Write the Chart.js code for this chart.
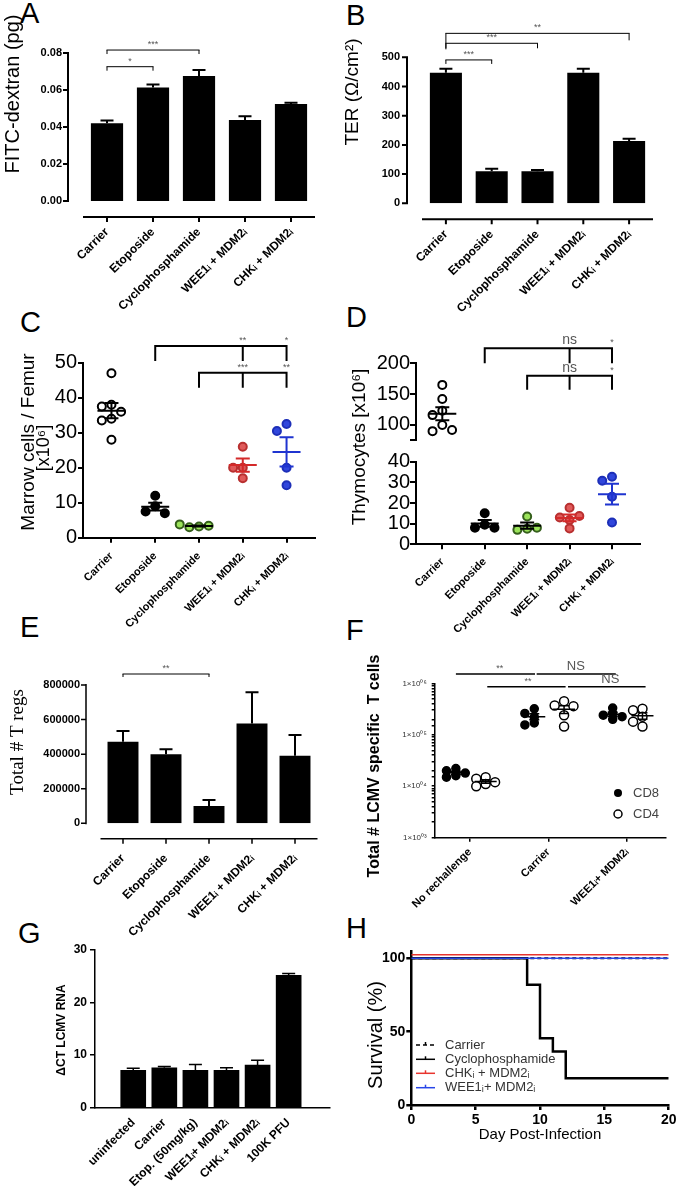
<!DOCTYPE html>
<html>
<head>
<meta charset="utf-8">
<title>Panels A-H</title>
<script src="https://cdn.jsdelivr.net/npm/chart.js@4.4.1/dist/chart.umd.min.js"></script>
<style>
  body { margin: 0; width: 677px; height: 1186px; position: relative; overflow: hidden; background: #fff; font-family: 'Liberation Sans', Arial, sans-serif; }
  canvas { position: absolute; left: 0; top: 0; }
  .tag { position: absolute; font-size: 29px; line-height: 1; color: #000; }
</style>
</head>
<body>
<div class="tag" style="left:20px;top:-1px">A</div>
<div class="tag" style="left:346px;top:1px">B</div>
<div class="tag" style="left:20px;top:308px">C</div>
<div class="tag" style="left:346px;top:303px">D</div>
<div class="tag" style="left:20px;top:613px">E</div>
<div class="tag" style="left:346px;top:616px">F</div>
<div class="tag" style="left:18px;top:919px">G</div>
<div class="tag" style="left:346px;top:914px">H</div>
<script>
const W = 677, H = 1186;
const SANS = "'Liberation Sans', Arial, sans-serif";
const SERIF = "'Liberation Serif', 'Times New Roman', serif";

// ---- data ----
const groupsAB = ['Carrier', 'Etoposide', 'Cyclophosphamide', 'WEE1ᵢ + MDM2ᵢ', 'CHKᵢ + MDM2ᵢ'];

// A: FITC-dextran (pg), mean + SEM
const aMean = [0.042, 0.0613, 0.0676, 0.0438, 0.0524];
const aSem = [0.0015, 0.0017, 0.0032, 0.0020, 0.0007];
const aTicks = [0, 0.02, 0.04, 0.06, 0.08];

// B: TER
const bMean = [447, 110, 110, 447, 213];
const bSem = [14, 8, 4, 14, 8];
const bTicks = [0, 100, 200, 300, 400, 500];

// C: marrow cells / femur (x10^6)
const cCarrier = [47, 38, 37.5, 36, 34, 33.5, 28];
const cEtoposide = [12, 9, 7.5, 7];
const cCyclo = [3.2, 3.0, 3.4, 3.8];
const cWee = [26, 20, 20, 17];
const cChk = [32.5, 30.5, 20, 15];
const cTicks = [0, 10, 20, 30, 40, 50];

// D: thymocytes (x10^6), split axis
const dCarrier = [165, 142, 123, 116, 100, 90, 92];
const dEtoposide = [15, 9.5, 8, 8];
const dCyclo = [13.5, 7.5, 7, 8];
const dWee = [17.7, 11.8, 13, 13.7, 7.7];
const dChk = [32.7, 30.8, 23, 10.6];
const dTopTicks = [75, 100, 150, 200];
const dLowTicks = [0, 10, 20, 30, 40];

// E: total # T regs
const eMean = [472000, 399000, 100000, 578000, 391000];
const eSem = [62000, 29000, 35000, 180000, 120000];
const eTicks = [0, 200000, 400000, 600000, 800000];

// F: LCMV specific T cells
const fGroups = ['No rechallenge', 'Carrier', 'WEE1ᵢ+ MDM2ᵢ'];
const fCD8 = [
  [22000, 20000, 18000, 16000, 15000],
  [320000, 260000, 220000, 170000, 155000],
  [330000, 260000, 240000, 225000, 200000]
];
const fCD4 = [
  [15000, 14000, 12000, 11000, 10000],
  [450000, 370000, 360000, 240000, 145000],
  [320000, 300000, 225000, 180000, 145000]
];

// G: dCT LCMV RNA
const gGroups = ['uninfected', 'Carrier', 'Etop. (50mg/kg)', 'WEE1ᵢ+ MDM2ᵢ', 'CHKᵢ + MDM2ᵢ', '100K PFU'];
const gMean = [7.1, 7.6, 7.1, 7.1, 8.1, 25.2];
const gSem = [0.4, 0.25, 1.1, 0.5, 0.95, 0.35];
const gTicks = [0, 10, 20, 30];

// H: survival
const hCarrierDays = [0, 20], hCarrier = [100, 100];
const hCycloDays = [0, 9, 10, 11, 12, 20], hCyclo = [100, 82, 45.5, 36.4, 18.2, 18.2];
const hChkDays = [0, 20], hChk = [102.5, 102.5];
const hWeeDays = [0, 20], hWee = [100, 100];
const hTicksX = [0, 5, 10, 15, 20];
const hTicksY = [0, 50, 100];

// ---- styles ----
const dotFill = ['#ffffff', '#000000', '#9be35a', '#e05a5a', '#3046dc'];
const dotEdge = ['#000000', '#000000', '#355f1c', '#b83030', '#1d2fb8'];
const statCol = ['#000000', '#000000', '#000000', '#d42a2a', '#1f34d0'];
const O8 = -0.18, O4 = 0.2; // CD8 / CD4 place inside a group

Chart.defaults.font.family = SANS;
Chart.defaults.color = '#000';
Chart.defaults.animation = false;
Chart.defaults.responsive = false;
Chart.defaults.plugins.legend.display = false;
Chart.defaults.plugins.tooltip.enabled = false;

// simple beeswarm so equal values don't sit on top of each other
function swarm(vals, center, step, tol, log) {
  const f = log ? Math.log10 : v => v;
  const used = [];
  return vals.map(v => {
    const slot = [0, -1, 1, -2, 2, -3, 3].find(c => !used.some(u => u.c === c && Math.abs(f(u.v) - f(v)) < tol));
    used.push({ v, c: slot });
    return { x: center + slot * step, y: v };
  });
}

const SUP = '⁰¹²³⁴⁵⁶⁷⁸⁹';
function sci(v) {
  const l = Math.log10(v), e = Math.round(l);
  if (Math.abs(l - e) > 1e-9) return '';
  return '1×10' + String(e).padStart(2, '0').split('').map(d => SUP[d]).join('');
}

// error bars, mean/SEM marks, offset axes, brackets, keys and titles
function deco(spec) {
  return {
    id: 'deco',
    afterDatasetsDraw(chart) {
      const { ctx, scales: { x, y } } = chart;
      ctx.save();
      if (spec.err) {
        const e = spec.err, meta = chart.getDatasetMeta(0);
        ctx.strokeStyle = '#000'; ctx.lineWidth = e.lw;
        ctx.beginPath();
        meta.data.forEach((bar, i) => {
          const top = y.getPixelForValue(e.mean[i] + e.sem[i]);
          ctx.moveTo(bar.x, bar.y); ctx.lineTo(bar.x, top);
          ctx.moveTo(bar.x - e.cap / 2, top); ctx.lineTo(bar.x + e.cap / 2, top);
        });
        ctx.stroke();
      }
      if (spec.stats) {
        const st = spec.stats;
        chart.data.datasets.forEach(ds => {
          const v = ds.data.map(p => p.y), n = v.length;
          const m = v.reduce((a, b) => a + b, 0) / n;
          const se = Math.sqrt(v.reduce((a, b) => a + (b - m) ** 2, 0) / (n - 1)) / Math.sqrt(n);
          const px = x.getPixelForValue(ds.center);
          const pm = y.getPixelForValue(m), p1 = y.getPixelForValue(m + se), p0 = y.getPixelForValue(m - se);
          ctx.strokeStyle = ds.statColor; ctx.lineWidth = st.lw;
          ctx.beginPath();
          ctx.moveTo(px - st.mw / 2, pm); ctx.lineTo(px + st.mw / 2, pm);
          ctx.moveTo(px, p0); ctx.lineTo(px, p1);
          ctx.moveTo(px - st.cw / 2, p0); ctx.lineTo(px + st.cw / 2, p0);
          ctx.moveTo(px - st.cw / 2, p1); ctx.lineTo(px + st.cw / 2, p1);
          ctx.stroke();
        });
      }
      ctx.restore();
    },
    afterDraw(chart) {
      const { ctx, chartArea: a, scales: { x, y } } = chart;
      ctx.save();
      if (spec.gap) {
        const ax = a.left - spec.gap, ay = a.bottom + spec.gap;
        ctx.strokeStyle = '#000'; ctx.lineWidth = spec.axisLw;
        ctx.beginPath();
        ctx.moveTo(ax, y.getPixelForValue(y.max) - 1); ctx.lineTo(ax, y.getPixelForValue(0) + 1);
        y.ticks.forEach(t => { const py = y.getPixelForValue(t.value); ctx.moveTo(ax - 5, py); ctx.lineTo(ax, py); });
        ctx.moveTo(a.left - 1, ay); ctx.lineTo(a.right + 1, ay);
        x.ticks.forEach((t, i) => { const px = x.getPixelForTick(i); ctx.moveTo(px, ay); ctx.lineTo(px, ay + 5); });
        ctx.stroke();
      }
      if (spec.brackets) {
        const bk = spec.brackets;
        bk.list.forEach(b => {
          const py = y.getPixelForValue(b.y);
          const xs = b.xs.map(v => x.getPixelForValue(v));
          ctx.strokeStyle = '#000'; ctx.lineWidth = bk.lw;
          ctx.beginPath();
          ctx.moveTo(xs[0] - bk.lw / 2, py); ctx.lineTo(xs[xs.length - 1] + bk.lw / 2, py);
          xs.forEach((px, j) => {
            const leg = Array.isArray(b.leg) ? b.leg[j] : b.leg;
            if (leg) { ctx.moveTo(px, py); ctx.lineTo(px, py + leg); }
          });
          ctx.stroke();
          ctx.fillStyle = bk.color; ctx.textAlign = 'center'; ctx.textBaseline = 'bottom';
          (b.text || []).forEach(t => {
            ctx.font = t.font || bk.font;
            ctx.fillText(t.s, x.getPixelForValue(t.at), py - 1);
          });
        });
      }
      (spec.keys || []).forEach(k => {
        ctx.fillStyle = spec.keyColor; ctx.font = spec.keyFont;
        ctx.textAlign = 'left'; ctx.textBaseline = 'middle';
        ctx.fillText(k.text, k.tx, k.y);
        ctx.strokeStyle = k.color || '#000'; ctx.fillStyle = k.color || '#000'; ctx.lineWidth = k.lw || 1.5;
        if (k.kind === 'dot' || k.kind === 'ring') {
          ctx.beginPath(); ctx.arc(k.sx, k.y, 4, 0, Math.PI * 2);
          if (k.kind === 'dot') ctx.fill(); else ctx.stroke();
        } else {
          ctx.setLineDash(k.dash || []);
          ctx.beginPath(); ctx.moveTo(k.sx, k.y); ctx.lineTo(k.sx + k.len, k.y); ctx.stroke();
          ctx.setLineDash([]);
          ctx.beginPath(); ctx.moveTo(k.sx + k.len / 2, k.y); ctx.lineTo(k.sx + k.len / 2, k.y - 3); ctx.stroke();
        }
      });
      (spec.titles || []).forEach(t => {
        ctx.save();
        ctx.translate(t.x, t.y);
        if (!t.flat) ctx.rotate(-Math.PI / 2);
        ctx.font = t.font; ctx.fillStyle = t.color || '#000';
        ctx.textAlign = 'center'; ctx.textBaseline = 'middle';
        ctx.fillText(t.text, 0, 0);
        ctx.restore();
      });
      ctx.restore();
    }
  };
}

function makeChart(area, yW, xH, cfg) {
  const cv = document.createElement('canvas');
  cv.width = W; cv.height = H;
  document.body.appendChild(cv);
  cfg.options.layout = { padding: { left: area.l - yW, top: area.t, right: W - area.r, bottom: H - area.b - xH } };
  return new Chart(cv, cfg);
}

function yAxis(o) {
  return {
    type: o.type || 'linear', min: o.min, max: o.max,
    afterFit: s => { s.width = o.w; s.paddingTop = 0; s.paddingBottom = 0; },
    afterBuildTicks: o.at ? (s => { s.ticks = o.at.map(v => ({ value: v })); }) : undefined,
    grid: o.gap ? { display: false, drawTicks: false } : { drawOnChartArea: false, color: '#000', lineWidth: o.lw, tickLength: o.tl },
    border: o.gap ? { display: false } : { color: '#000', width: o.lw },
    ticks: { font: o.font, color: o.color || '#000', padding: o.pad, autoSkip: false, callback: o.fmt || (v => v) }
  };
}

function xCat(o) {
  return {
    type: 'category', offset: true,
    afterFit: s => { s.height = o.h; s.paddingLeft = 0; s.paddingRight = 0; },
    grid: { display: false, drawTicks: false }, border: { display: false },
    ticks: { font: o.font, color: '#000', padding: o.pad, minRotation: 45, maxRotation: 45, autoSkip: false }
  };
}

function xLin(o) {
  return {
    type: 'linear', min: o.min, max: o.max, display: o.display !== false,
    afterFit: s => { s.height = o.h; s.paddingLeft = 0; s.paddingRight = 0; },
    afterBuildTicks: s => { s.ticks = o.at.map(v => ({ value: v })); },
    grid: { drawOnChartArea: false, drawTicks: o.tl > 0, color: '#000', lineWidth: o.lw, tickLength: o.tl },
    border: { color: '#000', width: o.lw },
    ticks: { font: o.font, color: '#000', padding: o.pad, minRotation: o.rot, maxRotation: o.rot, autoSkip: false,
             callback: o.names ? (v => o.names[v]) : (v => v) }
  };
}

const labelFont = { size: 12, weight: 'bold' };

// ---- A ----
makeChart({ l: 84, t: 53, r: 314, b: 201 }, 60, 120, {
  type: 'bar',
  data: { labels: groupsAB, datasets: [{ data: aMean, backgroundColor: '#000', barPercentage: 0.7, categoryPercentage: 1 }] },
  options: { scales: {
    x: xCat({ h: 120, pad: 24, font: labelFont }),
    y: yAxis({ min: 0, max: 0.08, at: aTicks, w: 60, gap: true, pad: 22, font: { size: 11, weight: 'bold' }, fmt: v => v.toFixed(2) })
  } },
  plugins: [deco({
    gap: 16, axisLw: 2,
    err: { mean: aMean, sem: aSem, cap: 13, lw: 2 },
    brackets: { lw: 1, font: '9px ' + SANS, color: '#555', list: [
      { xs: [0, 2], y: 0.0816, leg: 4, text: [{ at: 1, s: '***' }] },
      { xs: [0, 1], y: 0.0726, leg: 4, text: [{ at: 0.5, s: '*' }] }
    ] },
    titles: [{ text: 'FITC-dextran (pg)', x: 13, y: 94, font: '20px ' + SANS }]
  })]
});

// ---- B ----
makeChart({ l: 423, t: 57.3, r: 652, b: 203.3 }, 60, 120, {
  type: 'bar',
  data: { labels: groupsAB, datasets: [{ data: bMean, backgroundColor: '#000', barPercentage: 0.7, categoryPercentage: 1 }] },
  options: { scales: {
    x: xCat({ h: 120, pad: 24, font: labelFont }),
    y: yAxis({ min: 0, max: 500, at: bTicks, w: 60, gap: true, pad: 23, font: { size: 11, weight: 'bold' } })
  } },
  plugins: [deco({
    gap: 16, axisLw: 2,
    err: { mean: bMean, sem: bSem, cap: 13, lw: 2 },
    brackets: { lw: 1, font: '9px ' + SANS, color: '#555', list: [
      { xs: [0, 4], y: 582, leg: [16, 7], text: [{ at: 2, s: '**' }] },
      { xs: [0, 2], y: 548, leg: [5, 5], text: [{ at: 1, s: '***' }] },
      { xs: [0, 1], y: 491, leg: [4, 4], text: [{ at: 0.5, s: '***' }] }
    ] },
    titles: [{ text: 'TER (Ω/cm²)', x: 353, y: 92, font: '19px ' + SANS }]
  })]
});

// ---- C ----
const cVals = [cCarrier, cEtoposide, cCyclo, cWee, cChk];
makeChart({ l: 83, t: 362.7, r: 315, b: 537.7 }, 50, 120, {
  type: 'scatter',
  data: { datasets: cVals.map((vals, i) => ({
    data: swarm(vals, i, 0.22, 2.3), center: i, statColor: statCol[i],
    pointRadius: 4, pointBorderWidth: 2, pointBackgroundColor: dotFill[i], pointBorderColor: dotEdge[i]
  })) },
  options: { scales: {
    x: xLin({ min: -0.65, max: 4.65, at: [0, 1, 2, 3, 4], names: groupsAB, h: 120, lw: 2, tl: 5, pad: 7, rot: 45, font: { size: 11, weight: 'bold' } }),
    y: yAxis({ min: 0, max: 50, at: cTicks, w: 50, lw: 2, tl: 5, pad: 1, font: { size: 20 } })
  } },
  plugins: [deco({
    stats: { mw: 28, cw: 14, lw: 2 },
    brackets: { lw: 2, font: '9px ' + SANS, color: '#555', list: [
      { xs: [1, 3, 4], y: 54.8, leg: 15, text: [{ at: 3, s: '**' }, { at: 4, s: '*' }] },
      { xs: [2, 3, 4], y: 47.1, leg: 15, text: [{ at: 3, s: '***' }, { at: 4, s: '**' }] }
    ] },
    titles: [
      { text: 'Marrow cells / Femur', x: 29, y: 442, font: '19px ' + SANS },
      { text: '[x10⁶]', x: 44, y: 448, font: '18px ' + SANS }
    ]
  })]
});

// ---- D (upper part: Carrier) ----
makeChart({ l: 416, t: 363.3, r: 640, b: 440.4 }, 50, 0, {
  type: 'scatter',
  data: { datasets: [{
    data: swarm(dCarrier, 0, 0.23, 13), center: 0, statColor: statCol[0],
    pointRadius: 4, pointBorderWidth: 2, pointBackgroundColor: dotFill[0], pointBorderColor: dotEdge[0]
  }] },
  options: { scales: {
    x: xLin({ min: -0.62, max: 4.66, at: [0, 1, 2, 3, 4], names: groupsAB, h: 0, lw: 2, tl: 5, pad: 6, rot: 45, display: false }),
    y: yAxis({ min: 75, max: 200, at: dTopTicks, w: 50, lw: 2, tl: 6, pad: 0, font: { size: 20 }, fmt: v => (v < 100 ? '' : v) })
  } },
  plugins: [deco({
    stats: { mw: 28, cw: 14, lw: 2 },
    brackets: { lw: 2, font: '9px ' + SANS, color: '#555', list: [
      { xs: [1, 3, 4], y: 224.3, leg: 15, text: [{ at: 3, s: 'ns', font: '14px ' + SANS }, { at: 4, s: '*' }] },
      { xs: [2, 3, 4], y: 179.9, leg: 14, text: [{ at: 3, s: 'ns', font: '14px ' + SANS }, { at: 4, s: '*' }] }
    ] },
    titles: [{ text: 'Thymocytes [x10⁶]', x: 360, y: 447, font: '19px ' + SANS }]
  })]
});

// ---- D (lower part) ----
const dVals = [null, dEtoposide, dCyclo, dWee, dChk];
makeChart({ l: 416, t: 461.7, r: 640, b: 544.3 }, 50, 120, {
  type: 'scatter',
  data: { datasets: dVals.map((vals, i) => vals && ({
    data: swarm(vals, i, 0.23, 4), center: i, statColor: statCol[i],
    pointRadius: 4, pointBorderWidth: 2, pointBackgroundColor: dotFill[i], pointBorderColor: dotEdge[i]
  })).filter(Boolean) },
  options: { scales: {
    x: xLin({ min: -0.62, max: 4.66, at: [0, 1, 2, 3, 4], names: groupsAB, h: 120, lw: 2, tl: 5, pad: 6, rot: 45, font: { size: 11, weight: 'bold' } }),
    y: yAxis({ min: 0, max: 40, at: dLowTicks, w: 50, lw: 2, tl: 6, pad: 0, font: { size: 20 } })
  } },
  plugins: [deco({ stats: { mw: 28, cw: 14, lw: 2 } })]
});

// ---- E ----
makeChart({ l: 101.5, t: 685, r: 316.5, b: 823.3 }, 70, 120, {
  type: 'bar',
  data: { labels: groupsAB, datasets: [{ data: eMean, backgroundColor: '#000', barPercentage: 0.72, categoryPercentage: 1 }] },
  options: { scales: {
    x: xCat({ h: 120, pad: 28, font: labelFont }),
    y: yAxis({ min: 0, max: 800000, at: eTicks, w: 70, gap: true, pad: 21.5, font: { size: 11, weight: 'bold' }, fmt: v => String(v) })
  } },
  plugins: [deco({
    gap: 15.5, axisLw: 1.5,
    err: { mean: eMean, sem: eSem, cap: 13, lw: 2 },
    brackets: { lw: 1, font: '9px ' + SANS, color: '#555', list: [
      { xs: [0, 2], y: 863600, leg: 3, text: [{ at: 1, s: '**' }] }
    ] },
    titles: [{ text: 'Total # T regs', x: 18, y: 742, font: '19px ' + SERIF }]
  })]
});

// ---- F ----
const fSets = [];
fGroups.forEach((g, i) => {
  fSets.push({ data: swarm(fCD8[i], i + O8, 0.12, 0.1, true), center: i + O8, statColor: '#000',
    pointRadius: 4, pointBorderWidth: 1.5, pointBackgroundColor: '#000', pointBorderColor: '#000' });
  fSets.push({ data: swarm(fCD4[i], i + O4, 0.12, 0.1, true), center: i + O4, statColor: '#000',
    pointRadius: 4.5, pointBorderWidth: 1.5, pointBackgroundColor: '#fff', pointBorderColor: '#000' });
});
makeChart({ l: 434.7, t: 683.3, r: 666, b: 837.7 }, 50, 110, {
  type: 'scatter',
  data: { datasets: fSets },
  options: { scales: {
    x: xLin({ min: -0.45, max: 2.5, at: [0, 1, 2], names: fGroups, h: 110, lw: 1.5, tl: 4, pad: 4, rot: 45, font: { size: 11, weight: 'bold' } }),
    y: yAxis({ type: 'logarithmic', min: 1000, max: 1000000, w: 50, lw: 1.5, tl: 3, pad: 5, font: { size: 8 }, color: '#333', fmt: sci })
  } },
  plugins: [deco({
    stats: { mw: 22, cw: 10, lw: 1.5 },
    brackets: { lw: 1.5, font: '9px ' + SANS, color: '#555', list: [
      { xs: [-0.17, 0.82], y: 1510000, leg: 0, text: [{ at: 0.38, s: '**' }] },
      { xs: [0.86, 1.85], y: 1510000, leg: 0, text: [{ at: 1.35, s: 'NS', font: '13px ' + SANS }] },
      { xs: [0.23, 1.21], y: 860000, leg: 0, text: [{ at: 0.74, s: '**' }] },
      { xs: [1.26, 2.23], y: 860000, leg: 0, text: [{ at: 1.79, s: 'NS', font: '13px ' + SANS }] }
    ] },
    keyFont: '13px ' + SANS, keyColor: '#444',
    keys: [
      { kind: 'dot', sx: 618, tx: 633, y: 793, text: 'CD8' },
      { kind: 'ring', sx: 618, tx: 633, y: 814, text: 'CD4' }
    ],
    titles: [{ text: 'Total # LCMV specific  T cells', x: 375, y: 766, font: 'bold 16px ' + SANS }]
  })]
});

// ---- G ----
makeChart({ l: 95, t: 950, r: 330, b: 1107.7 }, 50, 100, {
  type: 'bar',
  data: { datasets: [{ data: gMean.map((v, i) => ({ x: i, y: v })), backgroundColor: '#000', barThickness: 25 }] },
  options: { scales: {
    x: xLin({ min: -0.6, max: 5.7, at: [0, 1, 2, 3, 4, 5], names: gGroups, h: 100, lw: 1.5, tl: 0, pad: 8, rot: 45, font: { size: 12, weight: 'bold' } }),
    y: yAxis({ min: 0, max: 30, at: gTicks, w: 50, lw: 1.5, tl: 5, pad: 3, font: { size: 12, weight: 'bold' } })
  } },
  plugins: [deco({
    err: { mean: gMean, sem: gSem, cap: 13, lw: 1.5 },
    titles: [{ text: 'ΔCT LCMV RNA', x: 62, y: 1030, font: 'bold 12px ' + SANS }]
  })]
});

// ---- H ----
const pairs = (xs, ys) => xs.map((d, i) => ({ x: d, y: ys[i] }));
const hLine = { pointRadius: 0, stepped: true, fill: false, tension: 0 };
makeChart({ l: 411.3, t: 951, r: 668.7, b: 1105 }, 50, 60, {
  type: 'line',
  data: { datasets: [
    { ...hLine, label: 'WEE1ᵢ+ MDM2ᵢ', data: pairs(hWeeDays, hWee), borderColor: '#2846e8', borderWidth: 1.5, order: 0 },
    { ...hLine, label: 'CHKᵢ + MDM2ᵢ', data: pairs(hChkDays, hChk), borderColor: '#e8342e', borderWidth: 1.5, order: 1 },
    { ...hLine, label: 'Cyclophosphamide', data: pairs(hCycloDays, hCyclo), borderColor: '#000', borderWidth: 2.5, order: 2 },
    { ...hLine, label: 'Carrier', data: pairs(hCarrierDays, hCarrier), borderColor: '#000', borderWidth: 2, borderDash: [4, 3], order: 3 }
  ] },
  options: { scales: {
    x: xLin({ min: 0, max: 20, at: hTicksX, h: 60, lw: 2.5, tl: 5, pad: 2, rot: 0, font: { size: 14, weight: 'bold' } }),
    y: yAxis({ min: 0, max: 105, at: hTicksY, w: 50, lw: 2.5, tl: 5, pad: 1, font: { size: 14, weight: 'bold' } })
  } },
  plugins: [deco({
    keyFont: '13px ' + SANS, keyColor: '#333',
    keys: [
      { kind: 'line', color: '#000', dash: [4, 3], sx: 416, len: 19, tx: 445, y: 1045, text: 'Carrier' },
      { kind: 'line', color: '#000', sx: 416, len: 19, tx: 445, y: 1059.3, text: 'Cyclophosphamide' },
      { kind: 'line', color: '#e8342e', sx: 416, len: 19, tx: 445, y: 1073.3, text: 'CHKᵢ + MDM2ᵢ' },
      { kind: 'line', color: '#2846e8', sx: 416, len: 19, tx: 445, y: 1087.7, text: 'WEE1ᵢ+ MDM2ᵢ' }
    ],
    titles: [
      { text: 'Survival (%)', x: 376, y: 1035, font: '20px ' + SANS },
      { text: 'Day Post-Infection', x: 540, y: 1135, font: '15px ' + SANS, flat: true }
    ]
  })]
});
</script>
</body>
</html>
